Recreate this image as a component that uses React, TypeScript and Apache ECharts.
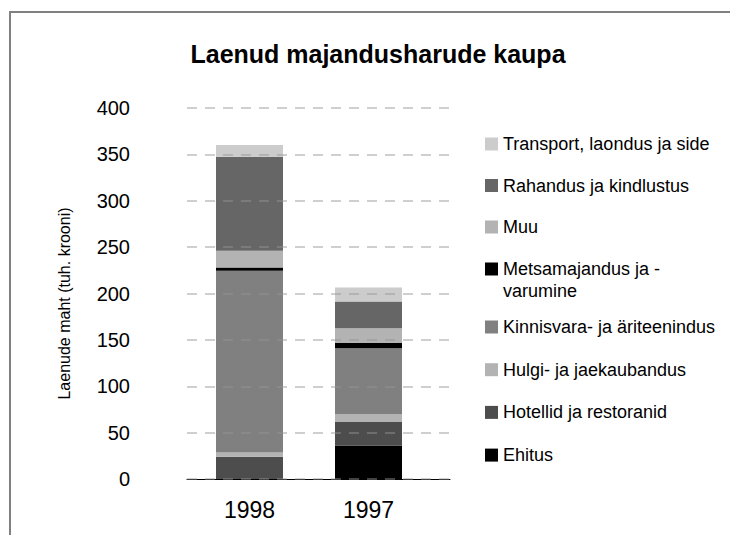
import { useEffect, useRef } from 'react';
import * as echarts from 'echarts';

// Categories (x axis)
const categories = ['1998', '1997'];

// Y axis ticks
const yMin = 0;
const yMax = 400;
const yStep = 50;

// Series values (index 0 = 1998, index 1 = 1997), stacked bottom to top
const ehitus = [0, 36];
const hotellid = [24, 25.5];
const hulgi = [4.5, 8.5];
const kinnisvara = [196, 71];
const metsa = [3.5, 5.5];
const muu = [18, 16];
const rahandus = [101.5, 29];
const transport = [12.5, 15];

const seriesNames = [
  'Ehitus',
  'Hotellid ja restoranid',
  'Hulgi- ja jaekaubandus',
  'Kinnisvara- ja äriteenindus',
  'Metsamajandus ja -varumine',
  'Muu',
  'Rahandus ja kindlustus',
  'Transport, laondus ja side',
];
const seriesValues = [ehitus, hotellid, hulgi, kinnisvara, metsa, muu, rahandus, transport];
const seriesColors = ['#000000', '#4d4d4d', '#b3b3b3', '#808080', '#000000', '#b3b3b3', '#666666', '#cccccc'];

const FONT = '"Liberation Sans", Arial, sans-serif';

export default function App() {
  const ref = useRef<HTMLDivElement>(null);

  useEffect(() => {
    if (!ref.current) return;
    const chart = echarts.init(ref.current, undefined, { renderer: 'svg' });

    const legendText = { fontSize: 18, color: '#000', fontFamily: FONT };
    const legendBase = {
      orient: 'vertical' as const,
      left: 485,
      padding: 0,
      icon: 'rect',
      itemWidth: 13,
      itemHeight: 13,
      textStyle: legendText,
    };

    chart.setOption({
      animation: false,
      backgroundColor: '#ffffff',
      title: {
        text: 'Laenud majandusharude kaupa',
        left: 378,
        top: 41,
        padding: 0,
        textAlign: 'center',
        textStyle: { fontSize: 25, fontWeight: 'bold', color: '#000', fontFamily: FONT },
      },
      graphic: [
        {
          type: 'rect',
          shape: { x: 10, y: 12, width: 740, height: 540 },
          style: { fill: 'none', stroke: '#808080', lineWidth: 2 },
          silent: true,
        },
      ],
      legend: [
        {
          ...legendBase,
          top: 135,
          itemGap: 23.5,
          data: [seriesNames[7], seriesNames[6], seriesNames[5]],
        },
        {
          ...legendBase,
          top: 236,
          itemGap: 10,
          // leading blank line keeps the swatch beside the first text line
          formatter: () => ' \nMetsamajandus ja -\nvarumine',
          data: [
            {
              name: seriesNames[4],
              textStyle: { ...legendText, lineHeight: 22 },
            },
          ],
        },
        {
          ...legendBase,
          top: 318,
          itemGap: 24.7,
          data: [seriesNames[3], seriesNames[2], seriesNames[1], seriesNames[0]],
        },
      ],
      grid: [
        { left: 190, right: 302, top: 108, bottom: 56, containLabel: false },
        { left: 187, right: 280, top: 108, bottom: 56, containLabel: false },
      ],
      xAxis: [
        {
          type: 'category',
          gridIndex: 0,
          data: categories,
          axisLine: { show: false },
          axisTick: { show: false },
          splitLine: { show: false },
          axisLabel: { fontSize: 23, color: '#000', fontFamily: FONT, margin: 19 },
        },
        {
          type: 'value',
          gridIndex: 1,
          min: 0,
          max: 1,
          axisLine: { show: true, onZero: false, lineStyle: { color: '#000', width: 1 } },
          axisTick: { show: false },
          axisLabel: { show: false },
          splitLine: { show: false },
        },
      ],
      yAxis: [
        {
          type: 'value',
          gridIndex: 0,
          min: yMin,
          max: yMax,
          interval: yStep,
          name: 'Laenude maht (tuh. krooni)',
          nameLocation: 'middle',
          nameGap: 118,
          nameRotate: 90,
          nameTextStyle: { fontSize: 16, color: '#000', fontFamily: FONT, padding: [0, 20, 0, 0] },
          axisLine: { show: false },
          axisTick: { show: false },
          axisLabel: { fontSize: 20, color: '#000', fontFamily: FONT, margin: 60 },
          splitLine: { show: false },
        },
        {
          type: 'value',
          gridIndex: 1,
          min: yMin,
          max: yMax,
          interval: yStep,
          z: 5,
          axisLine: { show: false },
          axisTick: { show: false },
          axisLabel: { show: false },
          splitLine: {
            show: true,
            lineStyle: { color: 'rgba(150,150,150,0.6)', type: [10, 8], width: 1.5 },
          },
        },
      ],
      series: seriesNames.map((name, si) => ({
        name,
        type: 'bar',
        xAxisIndex: 0,
        yAxisIndex: 0,
        stack: 'total',
        barWidth: 67,
        itemStyle: { color: seriesColors[si] },
        emphasis: { disabled: true },
        data: seriesValues[si],
        z: 2,
      })),
    });

    return () => chart.dispose();
  }, []);

  return (
    <div
      ref={ref}
      style={{ position: 'fixed', left: 0, top: 0, width: 730, height: 535, background: '#fff' }}
    />
  );
}
